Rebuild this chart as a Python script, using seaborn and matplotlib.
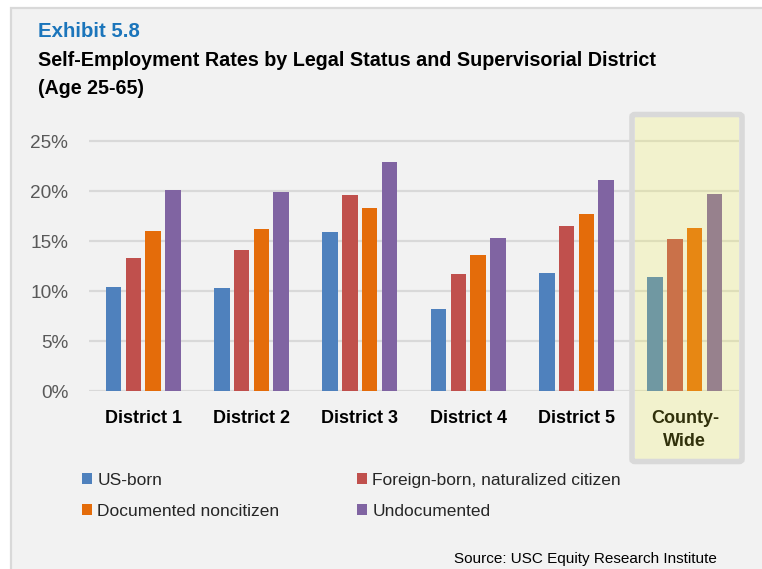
import matplotlib
matplotlib.use("Agg")
import matplotlib.pyplot as plt
import matplotlib.ticker as mticker
from matplotlib.patches import Rectangle, FancyBboxPatch, Patch
import pandas as pd
import seaborn as sns

# Self-employment rates (%) by district and legal status
districts = ["District 1", "District 2", "District 3", "District 4", "District 5", "County-\nWide"]
statuses = ["US-born", "Foreign-born, naturalized citizen", "Documented noncitizen", "Undocumented"]
us_born = [10.4, 10.3, 15.9, 8.2, 11.8, 11.4]
naturalized = [13.3, 14.1, 19.6, 11.7, 16.5, 15.2]
documented = [16.0, 16.2, 18.3, 13.6, 17.7, 16.3]
undocumented = [20.1, 19.9, 22.9, 15.3, 21.1, 19.7]
y_ticks = [0, 5, 10, 15, 20, 25]
colors = ["#4f81bd", "#c0504d", "#e46c0a", "#8064a2"]

df = pd.DataFrame({
    "district": districts * 4,
    "status": [s for s in statuses for _ in districts],
    "rate": us_born + naturalized + documented + undocumented,
})

sns.set_style("white")
FAMILY = ["Liberation Sans", "DejaVu Sans"]
plt.rcParams["font.family"] = FAMILY

W, H = 762, 569
fig = plt.figure(figsize=(W / 100, H / 100), dpi=100)
fig.patch.set_facecolor("white")

def fx(px):
    return px / W

def fy(py):
    return 1 - py / H

# Grey panel behind everything
fig.add_artist(Rectangle((fx(11), fy(H + 10)), 1.1, (H + 10 - 8) / H,
                         transform=fig.transFigure, facecolor="#f2f2f2",
                         edgecolor="#d9d9d9", linewidth=1.6, zorder=-10))

ymax = 25.3
ax = fig.add_axes([fx(89), fy(391), fx(650), (ymax * 10) / H])
ax.set_facecolor("none")

sns.barplot(data=df, x="district", y="rate", hue="status", hue_order=statuses,
            palette=colors, width=0.73, gap=0.22, saturation=1, legend=False,
            edgecolor="none", ax=ax)

ax.set_ylim(0, ymax)
ax.set_yticks(y_ticks)
ax.yaxis.set_major_formatter(mticker.PercentFormatter(decimals=0))
ax.grid(axis="y", color="#d9d9d9", linewidth=1.6)
ax.set_axisbelow(True)
for s in ax.spines.values():
    s.set_visible(False)
ax.set_xlabel("")
ax.set_ylabel("")
ax.tick_params(axis="y", length=0, pad=15, labelsize=13.7, labelcolor="#595959")
ax.tick_params(axis="x", length=0, pad=14, labelsize=13, labelcolor="black")
for lab in ax.get_xticklabels():
    lab.set_fontweight("bold")
    lab.set_linespacing(1.44)

# Titles
fig.text(fx(38), fy(37), "Exhibit 5.8", color="#1b75bb", fontsize=14.7,
         fontweight="bold", va="baseline", ha="left")
fig.text(fx(38), fy(66), "Self-Employment Rates by Legal Status and Supervisorial District",
         color="black", fontsize=14.2, fontweight="bold", va="baseline", ha="left")
fig.text(fx(38), fy(94), "(Age 25-65)", color="black", fontsize=14.2,
         fontweight="bold", va="baseline", ha="left")

# Legend: two single-column blocks, filled row by row
handles = [Patch(facecolor=c, edgecolor="none") for c in colors]
legend_kw = dict(ncol=1, loc="upper left", frameon=False, fontsize=12.5,
                 handlelength=0.58, handleheight=0.58, handletextpad=0.3,
                 labelspacing=0.9, borderaxespad=0, borderpad=0)
fig.legend([handles[0], handles[2]], [statuses[0], statuses[2]],
           bbox_to_anchor=(fx(82), fy(473)), **legend_kw)
fig.legend([handles[1], handles[3]], [statuses[1], statuses[3]],
           bbox_to_anchor=(fx(357), fy(473)), **legend_kw)

fig.text(fx(717), fy(563), "Source: USC Equity Research Institute", color="black",
         fontsize=11, va="baseline", ha="right")

# County-wide highlight: translucent yellow wash with grey frame
fig.add_artist(Rectangle((fx(635), fy(459)), fx(739 - 635), (459 - 117) / H,
                         transform=fig.transFigure, facecolor=(247 / 255, 247 / 255, 57 / 255),
                         alpha=0.2, edgecolor="none", zorder=5))
fig.add_artist(FancyBboxPatch((fx(632), fy(461.5)), fx(742 - 632), (461.5 - 114.5) / H,
                              boxstyle="round,pad=0,rounding_size=0.004",
                              transform=fig.transFigure, facecolor="none",
                              edgecolor="#d9d9d9", linewidth=4.0, zorder=6))

fig.savefig("out.png", dpi=100)
